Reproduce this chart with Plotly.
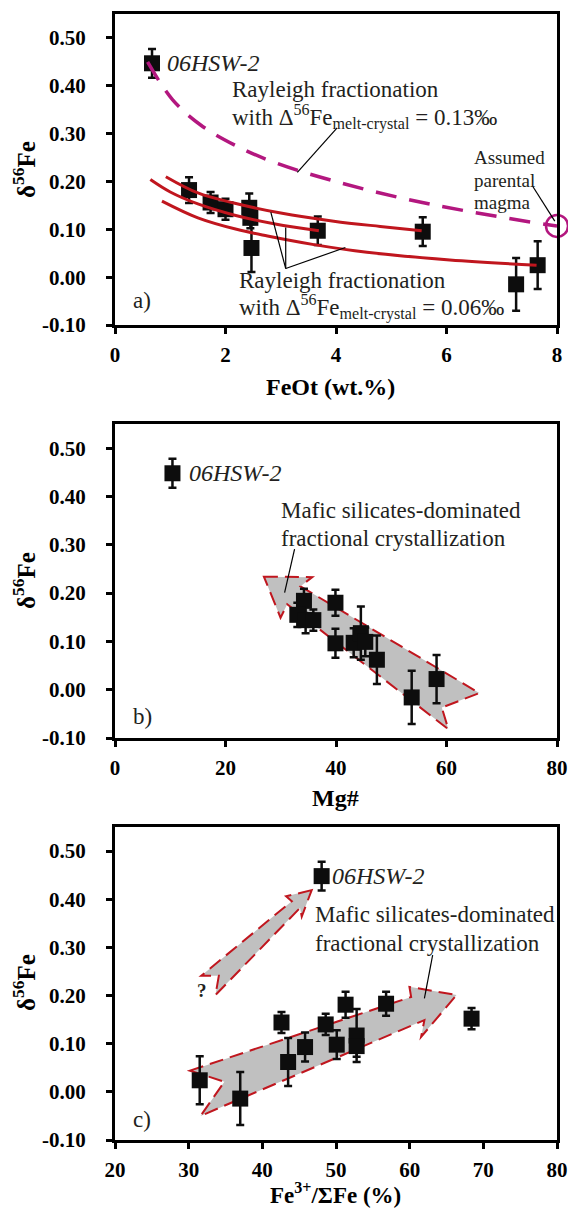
import plotly.graph_objects as go

# ---------------- data ----------------
# panel a: FeOt (wt.%) vs d56Fe
feot = [0.67, 1.34, 1.73, 2.00, 2.43, 2.45, 2.47, 3.67, 5.57, 7.26, 7.65]
d56_a = [0.447, 0.182, 0.156, 0.142, 0.145, 0.124, 0.061, 0.097, 0.095, -0.015, 0.025]
err_a = [0.030, 0.027, 0.022, 0.022, 0.030, 0.022, 0.050, 0.030, 0.030, 0.055, 0.050]

# panel b: Mg# vs d56Fe
mg = [10.4, 34.2, 33.0, 34.5, 35.9, 39.9, 39.9, 43.2, 44.5, 45.3, 47.4, 53.7, 58.2]
d56_b = [0.448, 0.184, 0.155, 0.144, 0.144, 0.180, 0.096, 0.097, 0.117, 0.099, 0.062, -0.016, 0.022]
err_b = [0.030, 0.025, 0.025, 0.027, 0.022, 0.027, 0.030, 0.030, 0.055, 0.030, 0.050, 0.055, 0.050]

# panel c: Fe3+/SumFe (%) vs d56Fe
fe3 = [48.05, 31.5, 37.0, 42.6, 43.5, 45.8, 48.6, 50.1, 51.3, 52.8, 52.8, 56.8, 68.4]
d56_c = [0.448, 0.024, -0.014, 0.144, 0.062, 0.093, 0.140, 0.098, 0.181, 0.117, 0.095, 0.183, 0.152]
err_c = [0.030, 0.050, 0.055, 0.022, 0.050, 0.030, 0.022, 0.030, 0.027, 0.055, 0.022, 0.025, 0.022]

# Rayleigh model curves
ray13_x = [0.59, 1.04, 1.55, 2.15, 2.88, 3.96, 5.16, 6.37, 7.81, 8.0]
ray13_y = [0.450, 0.371, 0.318, 0.277, 0.240, 0.201, 0.166, 0.138, 0.110, 0.107]
ray06a_x = [0.92, 1.5, 2.15, 3.0, 3.96, 4.8, 5.55]
ray06a_y = [0.210, 0.176, 0.155, 0.134, 0.117, 0.106, 0.097]
ray06b_x = [0.64, 1.0, 1.5, 2.15, 2.9, 3.69]
ray06b_y = [0.204, 0.178, 0.153, 0.130, 0.111, 0.097]
ray06c_x = [0.85, 1.5, 2.2, 2.76, 3.6, 4.56, 6.06, 7.63]
ray06c_y = [0.159, 0.124, 0.100, 0.086, 0.068, 0.052, 0.036, 0.025]
parent_x = [8.0]
parent_y = [0.107]

yticks = [-0.10, 0.00, 0.10, 0.20, 0.30, 0.40, 0.50]
yticktext = ["-0.10", "0.00", "0.10", "0.20", "0.30", "0.40", "0.50"]
xticks_a = [0, 2, 4, 6, 8]
xticks_b = [0, 20, 40, 60, 80]
xticks_c = [20, 30, 40, 50, 60, 70, 80]

# ---------------- style ----------------
W, H = 568, 1209
SERIF = "Liberation Serif, Times New Roman, serif"
TXT = "#231f20"
MAG = "#b3177f"
RED = "#c0161e"
GRAY = "#c0c0c0"

def px(x):
    return x / W

def py(y):
    return 1 - y / H

xdom = [px(115), px(557)]
ydoms = [[py(325), py(14)], [py(738), py(424)], [py(1140), py(827)]]

fig = go.Figure()

def add_points(x, y, e, n):
    fig.add_trace(go.Scatter(
        x=x, y=y, mode="markers", xaxis="x" + ("" if n == 1 else str(n)),
        yaxis="y" + ("" if n == 1 else str(n)),
        marker=dict(symbol="square", size=16, color="#0d0d0d"),
        error_y=dict(type="data", array=e, color="#0d0d0d", thickness=2.5, width=4),
        showlegend=False, cliponaxis=False))

add_points(feot, d56_a, err_a, 1)
add_points(mg, d56_b, err_b, 2)
add_points(fe3, d56_c, err_c, 3)

for cx, cy in [(ray06a_x, ray06a_y), (ray06b_x, ray06b_y), (ray06c_x, ray06c_y)]:
    fig.add_trace(go.Scatter(x=cx, y=cy, mode="lines", line=dict(color=RED, width=3, shape="spline"),
                             xaxis="x", yaxis="y", showlegend=False))
fig.add_trace(go.Scatter(x=ray13_x, y=ray13_y, mode="lines",
                         line=dict(color=MAG, width=3.5, dash="21px,13px", shape="spline"),
                         xaxis="x", yaxis="y", showlegend=False))
fig.add_trace(go.Scatter(x=parent_x, y=parent_y, mode="markers",
                         marker=dict(symbol="circle-open", size=22, color=MAG, line=dict(width=2.5, color=MAG)),
                         xaxis="x", yaxis="y", showlegend=False, cliponaxis=False))

axis_common = dict(showline=True, linecolor="black", linewidth=3, mirror=True, ticks="outside",
                   ticklen=6, tickwidth=2.5, tickcolor="black", showgrid=False, zeroline=False,
                   automargin=False,
                   tickfont=dict(family=SERIF, size=21, color="black", weight="bold"))

layout = dict(width=W, height=H, margin=dict(l=0, r=0, t=0, b=0, pad=0, autoexpand=False),
              paper_bgcolor="white", plot_bgcolor="white", showlegend=False)

xinfo = [([0, 8], xticks_a), ([0, 80], xticks_b), ([20, 80], xticks_c)]
for i in range(3):
    sfx = "" if i == 0 else str(i + 1)
    layout["xaxis" + sfx] = dict(axis_common, domain=xdom, range=xinfo[i][0], tickvals=xinfo[i][1],
                                 anchor="y" + sfx, ticklabelstandoff=3)
    layout["yaxis" + sfx] = dict(axis_common, domain=ydoms[i], range=[-0.1, 0.55], tickvals=yticks,
                                 ticktext=yticktext, anchor="x" + sfx, ticklabelstandoff=16)

fig.update_layout(**layout)

ann = []
def text(x, y, s, size=23, xref="x", yref="y", italic=False, bold=False, anchor="left", angle=0, color=TXT):
    ann.append(dict(x=x, y=y, xref=xref, yref=yref, text=s, showarrow=False, xanchor=anchor,
                    yanchor="middle", textangle=angle,
                    font=dict(family=SERIF, size=size, color=color,
                              style="italic" if italic else "normal",
                              weight="bold" if bold else "normal")))

# axis titles
for yc in [170, 581, 983]:
    text(px(24), py(yc), "δ<sup>56</sup>Fe", size=25, xref="paper", yref="paper", bold=True,
         anchor="center", angle=-90, color="black")
text(px(331), py(387), "FeOt (wt.%)", size=24, xref="paper", yref="paper", bold=True, anchor="center", color="black")
text(px(335), py(798), "Mg#", size=24, xref="paper", yref="paper", bold=True, anchor="center", color="black")
text(px(335), py(1193), "Fe<sup>3+</sup>/ΣFe (%)", size=23, xref="paper", yref="paper", bold=True, anchor="center", color="black")

# panel a texts
text(0.90, 0.448, "06HSW-2", size=24, italic=True)
text(2.08, 0.392, "Rayleigh fractionation")
text(2.08, 0.335, "with Δ<sup>56</sup>Fe<sub>melt-crystal</sub> = 0.13‰")
text(2.215, -0.0077, "Rayleigh fractionation")
text(2.215, -0.0625, "with Δ<sup>56</sup>Fe<sub>melt-crystal</sub> = 0.06‰")
text(6.46, 0.250, "Assumed", size=19)
text(6.46, 0.202, "parental", size=19)
text(6.46, 0.156, "magma", size=19)
text(0.29, -0.049, "a)")

# panel b texts
text(13.0, 0.448, "06HSW-2", xref="x2", yref="y2", size=24, italic=True)
text(29.66, 0.371, "Mafic silicates-dominated", xref="x2", yref="y2")
text(29.66, 0.312, "fractional crystallization", xref="x2", yref="y2")
text(2.9, -0.055, "b)", xref="x2", yref="y2")

# panel c texts
text(49.2, 0.448, "06HSW-2", xref="x3", yref="y3", size=24, italic=True)
text(46.83, 0.368, "Mafic silicates-dominated", xref="x3", yref="y3")
text(46.83, 0.309, "fractional crystallization", xref="x3", yref="y3")
text(22.2, -0.057, "c)", xref="x3", yref="y3")
text(31.8, 0.211, "?", xref="x3", yref="y3", size=19, bold=True, anchor="center")

fig.update_layout(annotations=ann)

shapes = []
def leader(x0, y0, x1, y1, n=""):
    shapes.append(dict(type="line", x0=x0, y0=y0, x1=x1, y1=y1, xref="x" + n, yref="y" + n,
                       line=dict(color="black", width=1.2)))

leader(4.02, 0.312, 3.30, 0.219)
leader(7.56, 0.190, 7.96, 0.117)
leader(3.09, 0.018, 2.82, 0.136)
leader(3.09, 0.018, 3.09, 0.104)
leader(3.09, 0.018, 4.17, 0.062)

arrow_b = [(26.95, 0.234), (35.69, 0.233), (33.57, 0.214), (65.94, -0.007), (59.15, -0.037),
           (60.34, -0.082), (31.17, 0.177), (29.96, 0.149)]
arrow_c1 = [(30.17, 0.044), (60.20, 0.197), (59.97, 0.218), (66.36, 0.201), (61.55, 0.114),
            (62.00, 0.149), (31.61, -0.050), (34.85, 0.021)]
arrow_c2 = [(46.70, 0.419), (43.23, 0.406), (44.00, 0.396), (31.70, 0.241), (34.09, 0.241),
            (33.64, 0.201), (45.12, 0.382), (45.35, 0.364)]

def poly(pts, n):
    path = "M " + " L ".join(f"{a},{b}" for a, b in pts) + " Z"
    shapes.append(dict(type="path", path=path, xref="x" + n, yref="y" + n, layer="below",
                       fillcolor=GRAY, line=dict(color=RED, width=2, dash="14px,7px")))

poly(arrow_b, "2")
poly(arrow_c1, "3")
poly(arrow_c2, "3")
leader(32.5, 0.291, 30.7, 0.201, "2")
leader(63.12, 0.284, 62.0, 0.194, "3")

fig.update_layout(shapes=shapes)
# remove the browser's default 8px page margin so the figure fills the window exactly
fig.write_html("out.html", config={"displayModeBar": False},
               post_script="document.body.style.margin='0px';document.body.style.overflow='hidden';")
